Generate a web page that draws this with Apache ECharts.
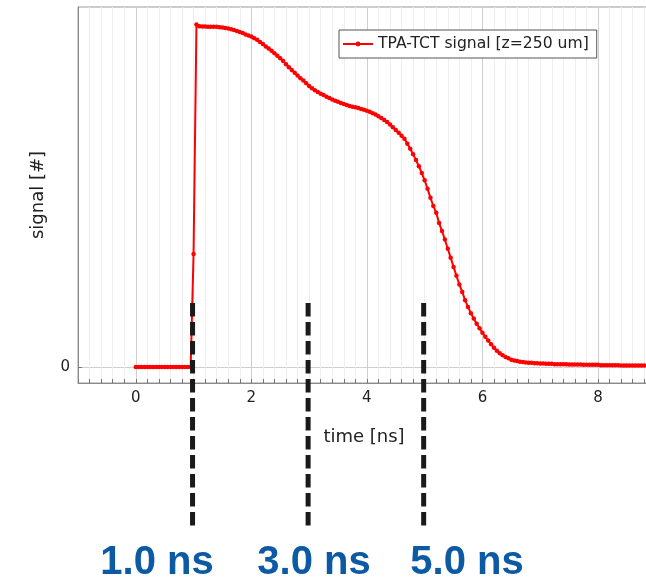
<!DOCTYPE html>
<html>
<head>
<meta charset="utf-8">
<script src="https://cdn.jsdelivr.net/npm/echarts@6/dist/echarts.min.js"></script>
<style>
  html, body { margin: 0; padding: 0; background: #fff; }
  #chart { width: 646px; height: 584px; }
</style>
</head>
<body>
<div id="chart"></div>
<script>
// sample times [ns]
const time = [
  0.00, 0.05, 0.10, 0.15, 0.20, 0.25, 0.30, 0.35, 0.40, 0.45, 0.50, 0.55, 0.60, 0.65, 0.70, 0.75, 0.80, 0.85, 0.90, 0.95,
  1.00, 1.05, 1.10, 1.15, 1.20, 1.25, 1.30, 1.35, 1.40, 1.45, 1.50, 1.55, 1.60, 1.65, 1.70, 1.75, 1.80, 1.85, 1.90, 1.95,
  2.00, 2.05, 2.10, 2.15, 2.20, 2.25, 2.30, 2.35, 2.40, 2.45, 2.50, 2.55, 2.60, 2.65, 2.70, 2.75, 2.80, 2.85, 2.90, 2.95,
  3.00, 3.05, 3.10, 3.15, 3.20, 3.25, 3.30, 3.35, 3.40, 3.45, 3.50, 3.55, 3.60, 3.65, 3.70, 3.75, 3.80, 3.85, 3.90, 3.95,
  4.00, 4.05, 4.10, 4.15, 4.20, 4.25, 4.30, 4.35, 4.40, 4.45, 4.50, 4.55, 4.60, 4.65, 4.70, 4.75, 4.80, 4.85, 4.90, 4.95,
  5.00, 5.05, 5.10, 5.15, 5.20, 5.25, 5.30, 5.35, 5.40, 5.45, 5.50, 5.55, 5.60, 5.65, 5.70, 5.75, 5.80, 5.85, 5.90, 5.95,
  6.00, 6.05, 6.10, 6.15, 6.20, 6.25, 6.30, 6.35, 6.40, 6.45, 6.50, 6.55, 6.60, 6.65, 6.70, 6.75, 6.80, 6.85, 6.90, 6.95,
  7.00, 7.05, 7.10, 7.15, 7.20, 7.25, 7.30, 7.35, 7.40, 7.45, 7.50, 7.55, 7.60, 7.65, 7.70, 7.75, 7.80, 7.85, 7.90, 7.95,
  8.00, 8.05, 8.10, 8.15, 8.20, 8.25, 8.30, 8.35, 8.40, 8.45, 8.50, 8.55, 8.60, 8.65, 8.70, 8.75, 8.80, 8.85
]

// signal, normalised to the peak
const signal = [
  0, 0, 0, 0, 0, 0, 0, 0, 0, 0, 0, 0, 0, 0, 0, 0, 0, 0, 0, 0,
  0.33, 1.000, 0.995, 0.994, 0.994, 0.993, 0.993, 0.993, 0.993, 0.992, 0.991, 0.990, 0.988, 0.986, 0.984, 0.981, 0.978, 0.975, 0.971, 0.968,
  0.965, 0.960, 0.955, 0.949, 0.943, 0.936, 0.930, 0.923, 0.916, 0.909, 0.901, 0.893, 0.884, 0.875, 0.867, 0.859, 0.851, 0.843, 0.836, 0.828,
  0.820, 0.814, 0.808, 0.803, 0.798, 0.794, 0.789, 0.785, 0.781, 0.777, 0.774, 0.771, 0.768, 0.765, 0.762, 0.760, 0.758, 0.756, 0.753, 0.751,
  0.748, 0.745, 0.741, 0.737, 0.732, 0.727, 0.721, 0.715, 0.708, 0.700, 0.692, 0.684, 0.675, 0.666, 0.652, 0.637, 0.621, 0.604, 0.586, 0.566,
  0.545, 0.520, 0.494, 0.470, 0.450, 0.420, 0.397, 0.372, 0.345, 0.319, 0.292, 0.266, 0.241, 0.219, 0.195, 0.175, 0.157, 0.141, 0.126, 0.113,
  0.100, 0.088, 0.077, 0.066, 0.056, 0.047, 0.040, 0.034, 0.029, 0.025, 0.021, 0.019, 0.017, 0.015, 0.014, 0.013, 0.012, 0.012, 0.011, 0.011,
  0.010, 0.010, 0.009, 0.009, 0.009, 0.008, 0.008, 0.008, 0.008, 0.008, 0.007, 0.007, 0.007, 0.007, 0.007, 0.006, 0.006, 0.006, 0.006, 0.006,
  0.006, 0.005, 0.005, 0.005, 0.005, 0.005, 0.005, 0.005, 0.004, 0.004, 0.004, 0.004, 0.004, 0.004, 0.004, 0.004, 0.004, 0.004
]

const xTickLabels = [0, 2, 4, 6, 8]
const yTickLabels = [0]

// times marked with dashed lines below the plot
const markTimes = [1.0, 3.0, 5.0]
const markLabels = ['1.0 ns', '3.0 ns', '5.0 ns']

const font = 'DejaVu Sans'
const chart = echarts.init(document.getElementById('chart'))

// split line every 0.2 ns, darker every 2 ns (ticks start at -1)
const gridColors = []
for (let i = 0; i < 10; i++) gridColors.push(i === 5 ? '#cfcfcf' : '#eeeeee')

const option = {
  animation: false,
  textStyle: { fontFamily: font },
  grid: {
    left: 78, top: 7, width: 572, bottom: 201,
    outerBoundsMode: 'none',
    show: true, borderColor: '#9a9a9a', borderWidth: 1
  },
  legend: {
    left: 339, top: 30,
    padding: [6, 8, 6, 3],
    itemWidth: 30, itemHeight: 6, itemGap: 5,
    borderColor: '#555', borderWidth: 1, borderRadius: 0,
    backgroundColor: '#fff',
    textStyle: { fontFamily: font, fontSize: 15.6, color: '#222', padding: [1, 0, 0, 0] }
  },
  xAxis: {
    type: 'value',
    min: -1, max: 8.9, interval: 0.2,
    name: 'time [ns]', nameLocation: 'middle', nameGap: 45,
    nameTextStyle: { fontFamily: font, fontSize: 18, color: '#222' },
    axisLine: { onZero: false, lineStyle: { color: '#8a8a8a', width: 1 } },
    axisTick: { inside: true, length: 4, lineStyle: { color: '#777' } },
    axisLabel: {
      fontFamily: font, fontSize: 15, color: '#222', margin: 8,
      formatter: v => xTickLabels.some(t => Math.abs(t - v) < 1e-6) ? String(Math.round(v)) : ''
    },
    splitLine: { show: true, lineStyle: { color: gridColors, width: 1 } }
  },
  yAxis: {
    type: 'value',
    min: -0.047, max: 1.051,
    name: 'signal [#]', nameLocation: 'middle', nameGap: 31,
    nameTextStyle: { fontFamily: font, fontSize: 18, color: '#222' },
    axisLine: { show: true, onZero: false, lineStyle: { color: '#8a8a8a', width: 1 } },
    axisTick: { show: true, inside: true, length: 4, customValues: yTickLabels, lineStyle: { color: '#777' } },
    axisLabel: { fontFamily: font, fontSize: 15, color: '#222', margin: 8, customValues: yTickLabels },
    splitLine: { show: true, lineStyle: { color: '#cfcfcf', width: 1 } }
  },
  series: [{
    name: 'TPA-TCT signal [z=250 um]',
    type: 'line',
    data: time.map((t, i) => [t, signal[i]]),
    symbol: 'circle',
    symbolSize: 4.5,
    showAllSymbol: true,
    lineStyle: { color: '#ff0000', width: 2 },
    itemStyle: { color: '#ff0000' }
  }]
}
chart.setOption(option)

// dashed markers and big blue labels under the plot
const graphics = []
markTimes.forEach(t => {
  const x = chart.convertToPixel({ xAxisIndex: 0 }, t)
  graphics.push({
    type: 'line',
    shape: { x1: x - 1, y1: 303, x2: x - 1, y2: 526 },
    style: { stroke: '#1a1a1a', lineWidth: 5, lineDash: [13.5, 5.5] },
    z: 100
  })
})
const labelX = [157, 314, 467]
markLabels.forEach((txt, i) => {
  graphics.push({
    type: 'text',
    x: labelX[i], y: 563,
    style: {
      text: txt,
      fill: '#0c5aa4',
      font: 'bold 40px "Liberation Sans", Arial, sans-serif',
      textAlign: 'center', textVerticalAlign: 'middle'
    },
    z: 100
  })
})
chart.setOption({ graphic: graphics })
</script>
</body>
</html>
